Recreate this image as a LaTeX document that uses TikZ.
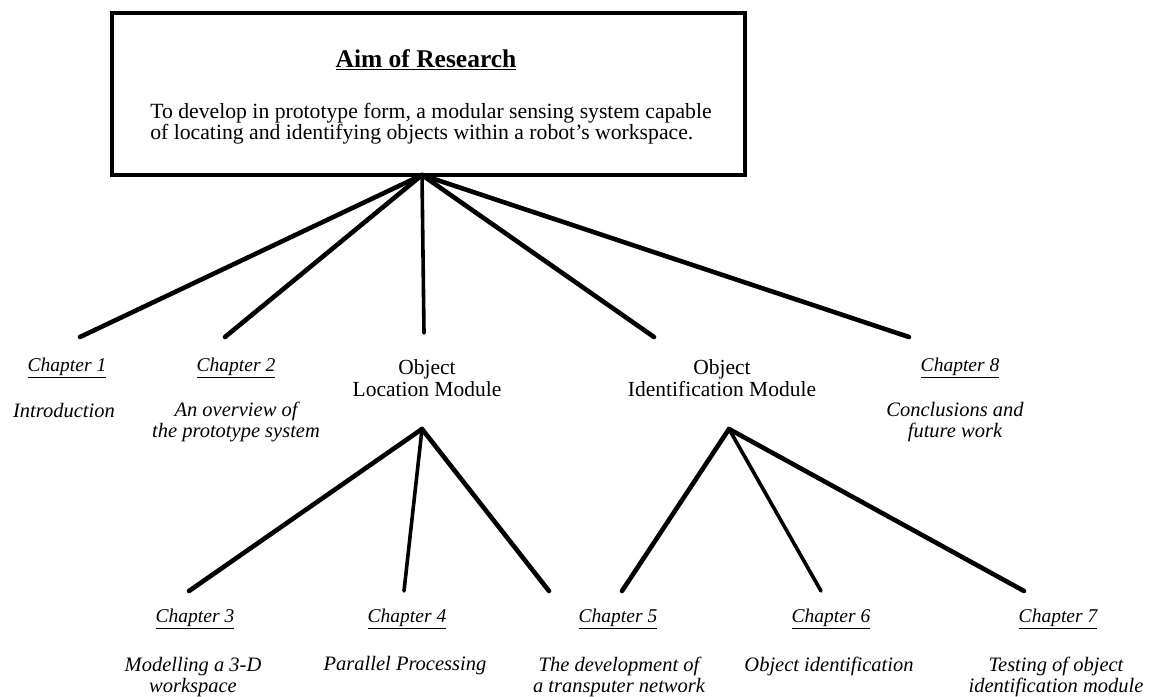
\documentclass[tikz,border=0pt]{standalone}
\usepackage{fontspec}
\setmainfont{Liberation Serif}
\begin{document}
\begin{tikzpicture}[x=1pt,y=-1pt,
  branch/.style={line width=4.6pt,line cap=round,line join=round},
  thinbranch/.style={line width=3.6pt,line cap=round},
  chap/.style={font=\fontsize{19.5}{22}\selectfont\itshape,inner sep=0pt},
  desc/.style={font=\fontsize{20.5}{21}\selectfont\itshape,align=center,inner sep=0pt},
  module/.style={font=\fontsize{21.5}{22}\selectfont,align=center,inner sep=0pt}]
\useasboundingbox (0,0) rectangle (1150,696);

% aim box
\node[draw,line width=3.4pt,minimum width=633pt,minimum height=162pt,inner sep=0pt] (aim) at (428.5,94) {};
\node[font=\fontsize{25.5}{28}\selectfont\bfseries,inner sep=0pt] (title) at (426,60) {\underline{Aim of Research}};
\node[font=\fontsize{21.7}{19}\selectfont,align=left,inner sep=0pt] (goal) at (431,123.5)
  {To develop in prototype form, a modular sensing system capable\\
   of locating and identifying objects within a robot's workspace.};

% first level
\node[chap] (c1) at (67,368) {\underline{Chapter 1}};
\node[desc] (d1) at (64,411) {Introduction};
\node[chap] (c2) at (236,368) {\underline{Chapter 2}};
\node[desc] (d2) at (236,422) {An overview of\\the prototype system};
\node[module] (olm) at (427,378) {Object\\Location Module};
\node[module] (oim) at (722,378) {Object\\Identification Module};
\node[chap] (c8) at (960,368) {\underline{Chapter 8}};
\node[desc] (d8) at (955,422) {Conclusions and\\future work};

% second level
\node[chap] (c3) at (195,619) {\underline{Chapter 3}};
\node[desc] (d3) at (193,677) {Modelling a 3-D\\workspace};
\node[chap] (c4) at (407,619) {\underline{Chapter 4}};
\node[desc] (d4) at (405,666) {Parallel Processing};
\node[chap] (c5) at (618,619) {\underline{Chapter 5}};
\node[desc] (d5) at (619,677) {The development of\\a transputer network};
\node[chap] (c6) at (831,619) {\underline{Chapter 6}};
\node[desc] (d6) at (829,666) {Object identification};
\node[chap] (c7) at (1058,619) {\underline{Chapter 7}};
\node[desc] (d7) at (1056,677) {Testing of object\\identification module};

% branch points and branch ends
\coordinate (root) at (422,175);
\coordinate (olmroot) at (422,429);
\coordinate (oimroot) at (729,429);
\coordinate (e1) at (80,337);
\coordinate (e2) at (225,337);
\coordinate (eolm) at (424,333);
\coordinate (eoim) at (654,337);
\coordinate (e8) at (909,337);
\coordinate (e3) at (189,591);
\coordinate (e4) at (404,591);
\coordinate (e5a) at (549,591);
\coordinate (e5b) at (622,591);
\coordinate (e6) at (821,591);
\coordinate (e7) at (1024,591);

\draw[branch] (root) -- (e1);
\draw[branch] (root) -- (e2);
\draw[thinbranch] (root) -- (eolm);
\draw[branch] (root) -- (eoim);
\draw[branch] (root) -- (e8);

\draw[branch] (olmroot) -- (e3);
\draw[thinbranch] (olmroot) -- (e4);
\draw[branch] (olmroot) -- (e5a);

\draw[branch] (oimroot) -- (e5b);
\draw[thinbranch] (oimroot) -- (e6);
\draw[branch] (oimroot) -- (e7);
\end{tikzpicture}
\end{document}
